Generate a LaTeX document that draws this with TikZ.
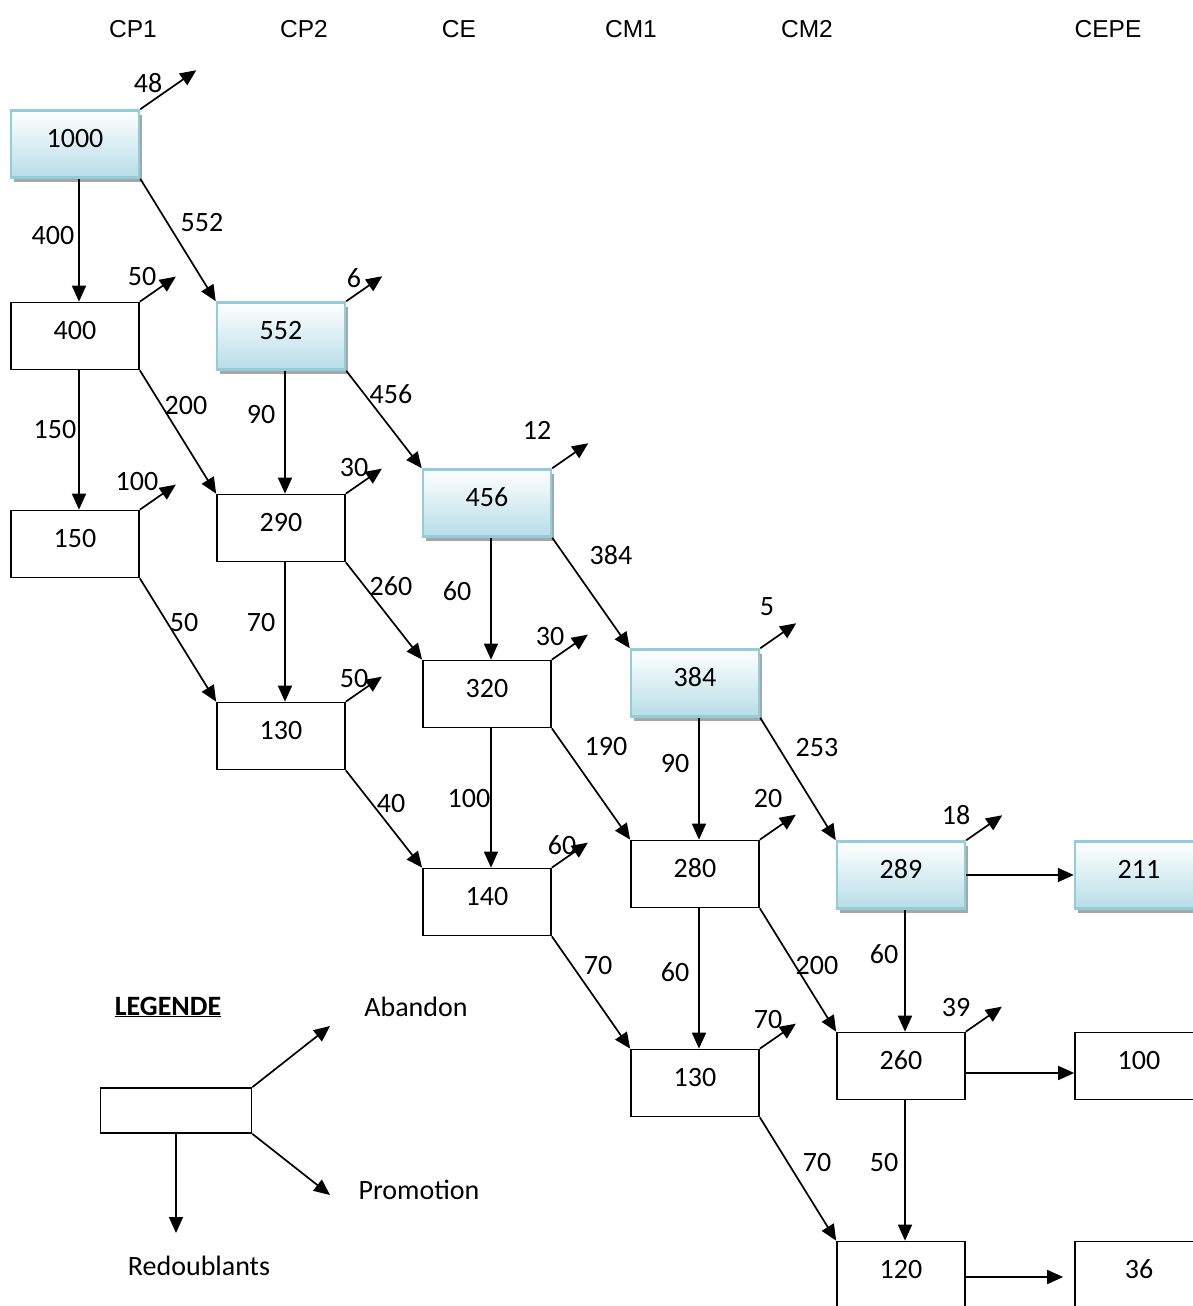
\documentclass[tikz,border=0pt]{standalone}
\usepackage{fontspec}
\setmainfont{Carlito}
\newfontfamily\hdrfont{Liberation Sans}
\usetikzlibrary{arrows.meta,shadows}
\definecolor{cellblue}{HTML}{B7DDE8}
\definecolor{celledge}{HTML}{92CDDC}
\begin{document}
\begin{tikzpicture}[x=1pt, y=-1pt, font=\fontsize{28}{34}\selectfont,
        >={Triangle[length=16pt,width=14pt]},
        box/.style={draw, line width=1.7pt, minimum width=128pt, minimum height=67pt,
          text height=0.7em, text depth=0.04em, inner sep=0pt},
        blu/.style={box, draw=celledge, line width=2.5pt, top color=white, bottom color=cellblue,
          drop shadow={shadow xshift=3pt, shadow yshift=-4pt, fill=gray!70, opacity=1}},
        hdr/.style={font=\hdrfont\fontsize{24.5}{30}\selectfont},
        lbl/.style={inner sep=0pt},
        arr/.style={->, line width=1.7pt}]
      \useasboundingbox (0,0) rectangle (1193,1306);
      % grades
      \node[hdr] (cp1)  at (133,29)  {CP1};
      \node[hdr] (cp2)  at (304,29)  {CP2};
      \node[hdr] (ce)   at (459,29)  {CE};
      \node[hdr] (cm1)  at (631,29)  {CM1};
      \node[hdr] (cm2)  at (807,29)  {CM2};
      \node[hdr] (cepe) at (1108,29) {CEPE};
      % cohort boxes
      \node[blu] (b1000) at (75,144)    {1000};
      \node[box] (b400)  at (75,336)    {400};
      \node[blu] (b552)  at (281,336)   {552};
      \node[box] (b150)  at (75,544)    {150};
      \node[box] (b290)  at (281,528)   {290};
      \node[blu] (b456)  at (487,503)   {456};
      \node[box] (b130)  at (281,736)   {130};
      \node[box] (b320)  at (487,694)   {320};
      \node[blu] (b384)  at (695,683)   {384};
      \node[box] (b140)  at (487,902)   {140};
      \node[box] (b280)  at (695,874)   {280};
      \node[blu] (b289)  at (901,875)   {289};
      \node[blu] (b211)  at (1139,875)  {211};
      \node[box] (b130b) at (695,1083)  {130};
      \node[box] (b260)  at (901,1066)  {260};
      \node[box] (b100)  at (1139,1066) {100};
      \node[box] (b120)  at (901,1275)  {120};
      \node[box] (b36)   at (1139,1275) {36};
      % redoublants
      \draw[arr] ([xshift=4pt]b1000.south) -- ([xshift=4pt]b400.north);
      \draw[arr] ([xshift=4pt]b400.south) -- ([xshift=4pt]b150.north);
      \draw[arr] ([xshift=4pt]b552.south) -- ([xshift=4pt]b290.north);
      \draw[arr] ([xshift=4pt]b290.south) -- ([xshift=4pt]b130.north);
      \draw[arr] ([xshift=4pt]b456.south) -- ([xshift=4pt]b320.north);
      \draw[arr] ([xshift=4pt]b320.south) -- ([xshift=4pt]b140.north);
      \draw[arr] ([xshift=4pt]b384.south) -- ([xshift=4pt]b280.north);
      \draw[arr] ([xshift=4pt]b280.south) -- ([xshift=4pt]b130b.north);
      \draw[arr] ([xshift=4pt]b289.south) -- ([xshift=4pt]b260.north);
      \draw[arr] ([xshift=4pt]b260.south) -- ([xshift=4pt]b120.north);
      % promotions
      \draw[arr] (b1000.south east) -- (b552.north west);
      \draw[arr] (b400.south east) -- (b290.north west);
      \draw[arr] (b552.south east) -- (b456.north west);
      \draw[arr] (b150.south east) -- (b130.north west);
      \draw[arr] (b290.south east) -- (b320.north west);
      \draw[arr] (b456.south east) -- (b384.north west);
      \draw[arr] (b130.south east) -- (b140.north west);
      \draw[arr] (b320.south east) -- (b280.north west);
      \draw[arr] (b384.south east) -- (b289.north west);
      \draw[arr] (b140.south east) -- (b130b.north west);
      \draw[arr] (b280.south east) -- (b260.north west);
      \draw[arr] (b130b.south east) -- (b120.north west);
      \draw[arr] (b289.east) -- (b211.west);
      \draw[arr] ([yshift=-7pt]b260.east) -- ([yshift=-7pt]b100.west);
      \draw[arr] ([yshift=-2pt]b120.east) -- ([xshift=-11pt,yshift=-2pt]b36.west);
      % abandons
      \draw[arr] (b1000.north east) -- ++(56,-39);
      \draw[arr] (b400.north east) -- ++(36,-25);
      \draw[arr] (b552.north east) -- ++(36,-25);
      \draw[arr] (b150.north east) -- ++(36,-25);
      \draw[arr] (b290.north east) -- ++(36,-25);
      \draw[arr] (b456.north east) -- ++(36,-25);
      \draw[arr] (b130.north east) -- ++(36,-25);
      \draw[arr] (b320.north east) -- ++(36,-25);
      \draw[arr] (b384.north east) -- ++(36,-25);
      \draw[arr] (b140.north east) -- ++(36,-25);
      \draw[arr] (b280.north east) -- ++(36,-25);
      \draw[arr] (b289.north east) -- ++(36,-25);
      \draw[arr] (b130b.north east) -- ++(36,-25);
      \draw[arr] (b260.north east) -- ++(36,-25);
      % flow values
      \node[lbl] (a1000) at (148,83)   {48};
      \node[lbl] (r1000) at (53,236)   {400};
      \node[lbl] (p1000) at (202,223)  {552};
      \node[lbl] (a400)  at (142,277)  {50};
      \node[lbl] (a552)  at (354,278)  {6};
      \node[lbl] (r400)  at (55,430)   {150};
      \node[lbl] (p400)  at (186,406)  {200};
      \node[lbl] (r552)  at (261,415)  {90};
      \node[lbl] (p552)  at (391,394)  {456};
      \node[lbl] (a456)  at (537,430)  {12};
      \node[lbl] (a150)  at (137,482)  {100};
      \node[lbl] (a290)  at (354,468)  {30};
      \node[lbl] (p456)  at (611,555)  {384};
      \node[lbl] (p290)  at (391,586)  {260};
      \node[lbl] (r456)  at (457,591)  {60};
      \node[lbl] (a384)  at (767,607)  {5};
      \node[lbl] (p150)  at (184,623)  {50};
      \node[lbl] (r290)  at (261,623)  {70};
      \node[lbl] (a320)  at (550,637)  {30};
      \node[lbl] (a130)  at (354,679)  {50};
      \node[lbl] (p320)  at (606,747)  {190};
      \node[lbl] (r384)  at (675,764)  {90};
      \node[lbl] (p384)  at (817,748)  {253};
      \node[lbl] (p130)  at (391,804)  {40};
      \node[lbl] (r320)  at (469,799)  {100};
      \node[lbl] (a280)  at (768,799)  {20};
      \node[lbl] (a289)  at (956,815)  {18};
      \node[lbl] (a140)  at (562,845)  {60};
      \node[lbl] (p140)  at (598,965)  {70};
      \node[lbl] (r280)  at (675,972)  {60};
      \node[lbl] (p280)  at (817,965)  {200};
      \node[lbl] (r289)  at (884,954)  {60};
      \node[lbl] (a260)  at (956,1007) {39};
      \node[lbl] (a130b) at (768,1019) {70};
      \node[lbl] (p130b) at (817,1162) {70};
      \node[lbl] (r260)  at (884,1162) {50};
      % legend
      \node[lbl] (legt) at (168,1007) {\textbf{\underline{LEGENDE}}};
      \node[draw, line width=1.7pt, minimum width=151pt, minimum height=45pt, inner sep=0pt] (leg) at (176,1110.5) {};
      \node[lbl] (laban) at (416,1007) {Abandon};
      \node[lbl] (lprom) at (419,1190) {Promotion};
      \node[lbl] (lred)  at (199,1266) {Redoublants};
      \coordinate (caban) at (330,1026);
      \coordinate (cprom) at (330,1195);
      \coordinate (cred)  at (176,1233);
      \draw[arr] (leg.north east) -- (caban);
      \draw[arr] (leg.south east) -- (cprom);
      \draw[arr] (leg.south) -- (cred);
    \end{tikzpicture}
\end{document}
